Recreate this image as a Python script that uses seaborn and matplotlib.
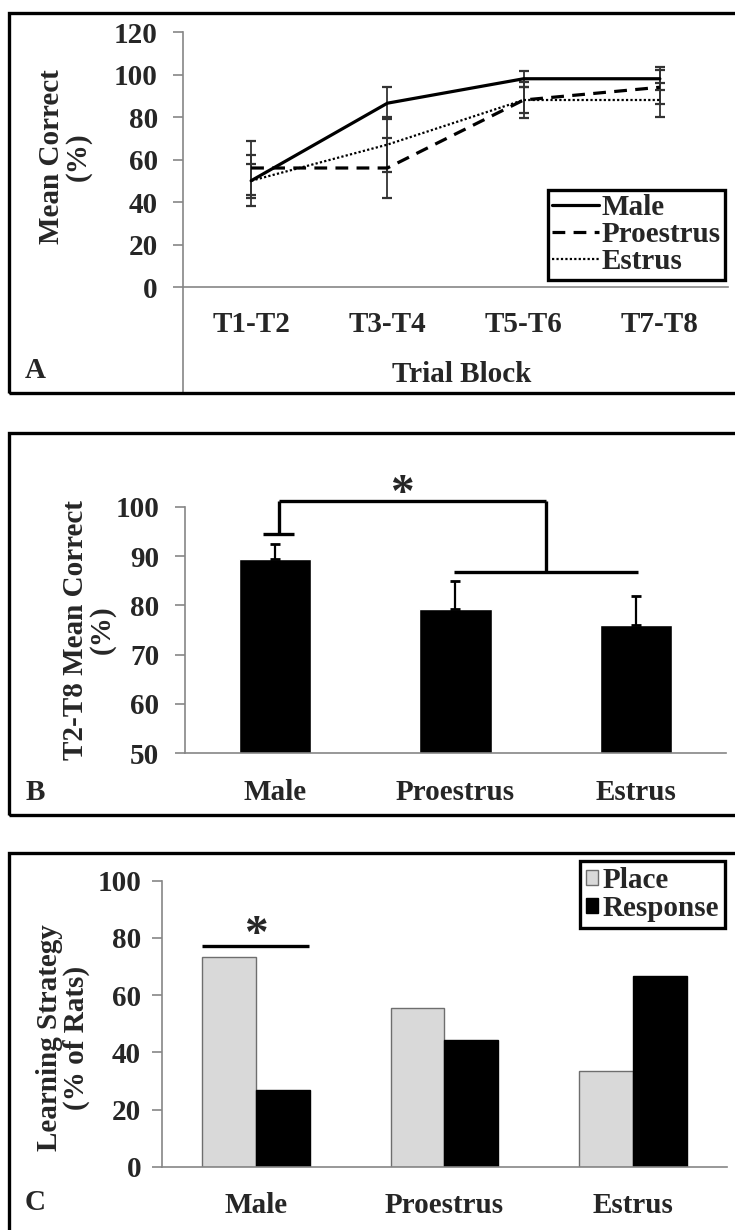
import numpy as np
import pandas as pd
import matplotlib
matplotlib.use("Agg")
import matplotlib.pyplot as plt
import seaborn as sns
from matplotlib.patches import Rectangle

# ---------------- data ----------------
blocks = ["T1-T2", "T3-T4", "T5-T6", "T7-T8"]
male_a = [50, 86.5, 98, 98]
proestrus_a = [56, 56, 88, 94]
estrus_a = [50, 67, 88, 88]
male_a_err = [8, 7.5, 3.7, 5.5]
proestrus_a_err = [12.5, 14, 6, 8]
estrus_a_err = [12, 13, 8.6, 8]

groups = ["Male", "Proestrus", "Estrus"]
t2t8_mean = [89.4, 79.2, 76.0]
t2t8_err = [3.1, 5.8, 5.9]

strategies = ["Place", "Response"]
place_pct = [73.3, 55.6, 33.3]
response_pct = [26.7, 44.4, 66.7]

# ---------------- style ----------------
sns.set_style("white")
plt.rcParams["font.family"] = ["Liberation Serif", "DejaVu Serif"]
plt.rcParams["font.weight"] = "bold"
plt.rcParams["axes.labelweight"] = "bold"
FS = 21
W, H = 735, 1230
fig = plt.figure(figsize=(W / 100, H / 100), dpi=100)
GRAY = "#868686"


def ax_px(left, right, top, bottom):
    return fig.add_axes([left / W, 1 - bottom / H, (right - left) / W, (bottom - top) / H])


def style_axes(ax, ypad):
    for s in ["top", "right"]:
        ax.spines[s].set_visible(False)
    for s in ["left", "bottom"]:
        ax.spines[s].set_color(GRAY)
        ax.spines[s].set_linewidth(1.2)
    ax.tick_params(axis="y", which="major", length=7, width=1.2, color=GRAY,
                   labelsize=FS, pad=ypad, left=True, direction="out")
    for lab in ax.get_yticklabels():
        lab.set_fontweight("bold")


def frame(top, bottom):
    fig.patches.append(Rectangle((9 / W, 1 - bottom / H), (800 - 9) / W, (bottom - top) / H,
                                 transform=fig.transFigure, fill=False, lw=2.4,
                                 ec="black", zorder=0))


# ---------------- Panel A ----------------
frame(13, 393)
axA = ax_px(183, 728, 32, 287)
dfA = pd.DataFrame({
    "pos": list(range(len(blocks))) * 3,
    "value": male_a + proestrus_a + estrus_a,
    "group": ["Male"] * 4 + ["Proestrus"] * 4 + ["Estrus"] * 4,
})
line_styles = {"Male": ("-", 2.3), "Proestrus": ((0, (4, 2.6)), 2.3), "Estrus": ((0, (1, 1)), 1.6)}
errs = {"Male": male_a_err, "Proestrus": proestrus_a_err, "Estrus": estrus_a_err}
for g in ["Male", "Proestrus", "Estrus"]:
    sub = dfA[dfA.group == g]
    ls, lw = line_styles[g]
    sns.lineplot(data=sub, x="pos", y="value", ax=axA, color="black", linestyle=ls,
                 linewidth=lw, label=g, zorder=3)
    axA.errorbar(sub["pos"], sub["value"], yerr=errs[g], fmt="none", ecolor="#333333",
                 elinewidth=1.3, capsize=3.3, capthick=1.6, zorder=2)
axA.set_xlim(-0.5, 3.5)
axA.set_ylim(0, 120)
axA.set_yticks(range(0, 121, 20))
axA.set_xticks(range(4))
axA.set_xticklabels(blocks, fontsize=FS, fontweight="bold")
axA.set_xticks([0.5, 1.5, 2.5, 3.5], minor=True)
axA.tick_params(axis="x", which="major", length=0, pad=17)
axA.tick_params(axis="x", which="minor", length=38, width=1.2, color=GRAY, direction="out")
axA.set_xlabel("")
axA.set_ylabel("")
style_axes(axA, 11)
axA.plot([-0.5, -0.5], [0, -50], color=GRAY, lw=1.2, clip_on=False)
leg = axA.legend(loc="upper right", bbox_to_anchor=(725 / W, 1 - 190 / H),
                 bbox_transform=fig.transFigure, borderaxespad=0, frameon=True,
                 fancybox=False, framealpha=1, edgecolor="black",
                 handlelength=1.6, handletextpad=0.1, labelspacing=0.0, borderpad=0.15,
                 prop={"weight": "bold", "size": FS})
leg.get_frame().set_linewidth(2.4)
fig.text(65 / W, 1 - 157 / H, "Mean Correct\n(%)", rotation=90, ha="center", va="center",
         fontsize=FS, fontweight="bold", linespacing=1.0)
fig.text(462 / W, 1 - 374 / H, "Trial Block", ha="center", va="center",
         fontsize=FS, fontweight="bold")
fig.text(35 / W, 1 - 370 / H, "A", ha="center", va="center", fontsize=FS, fontweight="bold")

# ---------------- Panel B ----------------
frame(433, 815)
axB = ax_px(185, 726, 507, 753)
dfB = pd.DataFrame({"group": groups, "mean": t2t8_mean})
sns.barplot(data=dfB, x="group", y="mean", ax=axB, color="black", width=0.4,
            saturation=1, zorder=2)
axB.errorbar(range(len(groups)), t2t8_mean, yerr=[np.zeros(3), t2t8_err], fmt="none",
             ecolor="black", elinewidth=1.6, capsize=3.5, capthick=2, zorder=3)
axB.set_xlim(-0.5, 2.5)
axB.set_ylim(50, 100)
axB.set_yticks(range(50, 101, 10))
axB.set_xticks(range(3))
axB.set_xticklabels(groups, fontsize=FS, fontweight="bold")
axB.set_xticks([-0.5, 0.5, 1.5, 2.5], minor=True)
axB.tick_params(axis="x", which="major", length=0, pad=18.5)
axB.tick_params(axis="x", which="minor", length=7, width=1.2, color=GRAY, direction="out")
axB.set_xlabel("")
axB.set_ylabel("")
style_axes(axB, 11.5)
bk = dict(color="black", lw=2.4, clip_on=False, solid_capstyle="butt")
axB.plot([0.02, 1.5], [101.2, 101.2], **bk)
axB.plot([0.02, 0.02], [101.2, 94.5], **bk)
axB.plot([-0.067, 0.105], [94.5, 94.5], **bk)
axB.plot([1.5, 1.5], [101.2, 86.8], **bk)
axB.plot([0.99, 2.01], [86.8, 86.8], **bk)
axB.text(0.70, 102.5, "*", ha="center", va="center", fontsize=34, fontweight="bold",
         clip_on=False)
fig.text(89 / W, 1 - 630 / H, "T2-T8 Mean Correct\n(%)", rotation=90, ha="center",
         va="center", fontsize=FS, fontweight="bold", linespacing=1.0)
fig.text(35 / W, 1 - 792 / H, "B", ha="center", va="center", fontsize=FS, fontweight="bold")

# ---------------- Panel C ----------------
frame(853, 1300)
axC = ax_px(162, 727, 880.7, 1166.7)
dfC = pd.DataFrame({
    "group": groups * 2,
    "strategy": ["Place"] * 3 + ["Response"] * 3,
    "pct": place_pct + response_pct,
})
sns.barplot(data=dfC, x="group", y="pct", hue="strategy", ax=axC,
            palette={"Place": "#d9d9d9", "Response": "black"}, width=0.57, gap=0,
            saturation=1, zorder=2)
edge_cols = ["#6e6e6e", "black"]
for bars, ec in zip(axC.containers, edge_cols):
    for p in bars:
        p.set_edgecolor(ec)
        p.set_linewidth(1.0)
axC.set_xlim(-0.5, 2.5)
axC.set_ylim(0, 100)
axC.set_yticks(range(0, 101, 20))
axC.set_xticks(range(3))
axC.set_xticklabels(groups, fontsize=FS, fontweight="bold")
axC.set_xticks([-0.5, 0.5, 1.5, 2.5], minor=True)
axC.tick_params(axis="x", which="major", length=0, pad=18)
axC.tick_params(axis="x", which="minor", length=7, width=1.2, color=GRAY, direction="out")
axC.set_xlabel("")
axC.set_ylabel("")
style_axes(axC, 8)
axC.plot([-0.287, 0.28], [77.3, 77.3], **bk)
axC.text(0.0, 80.5, "*", ha="center", va="center", fontsize=34, fontweight="bold",
         clip_on=False)
legC = axC.legend(loc="upper right", bbox_to_anchor=(725 / W, 1 - 861 / H),
                  bbox_transform=fig.transFigure, borderaxespad=0, frameon=True,
                  fancybox=False, framealpha=1, edgecolor="black",
                  handlelength=0.42, handleheight=0.42, handletextpad=0.15,
                  labelspacing=0.05, borderpad=0.2, title=None,
                  prop={"weight": "bold", "size": FS})
legC.get_frame().set_linewidth(2.4)
for h, ec in zip(legC.legend_handles, edge_cols):
    h.set_edgecolor(ec)
    h.set_linewidth(1.0)
fig.text(63 / W, 1 - 1038 / H, "Learning Strategy\n(% of Rats)", rotation=90, ha="center",
         va="center", fontsize=FS, fontweight="bold", linespacing=1.0)
fig.text(35 / W, 1 - 1203 / H, "C", ha="center", va="center", fontsize=FS, fontweight="bold")

fig.savefig("out.png", dpi=100)
